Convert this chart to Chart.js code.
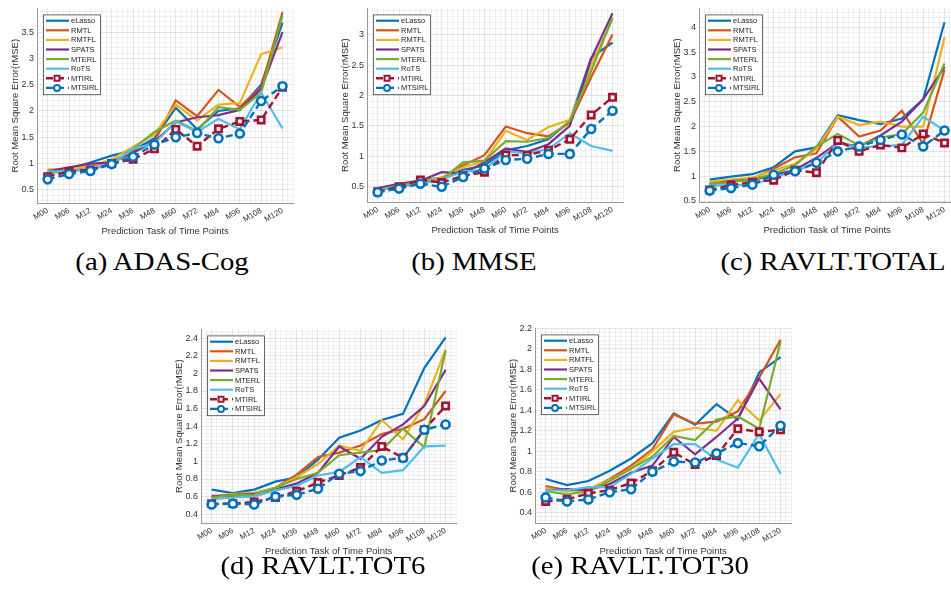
<!DOCTYPE html>
<html>
<head>
<meta charset="utf-8">
<script src="https://cdn.jsdelivr.net/npm/chart.js@4.4.0/dist/chart.umd.min.js"></script>
<style>
  body { margin: 0; width: 951px; height: 597px; background: #fff; position: relative; overflow: hidden; }
  .pane { position: absolute; }
  .cap {
    position: absolute; font-family: "Liberation Serif", "DejaVu Serif", serif;
    font-size: 25px; line-height: 25px; color: #000; white-space: nowrap;
    transform: translateX(-50%) scaleX(1.15);
  }
</style>
</head>
<body>
<script>
// x categories and legend names
const timePoints = ["M00", "M06", "M12", "M24", "M36", "M48", "M60", "M72", "M84", "M96", "M108", "M120"];
const methods = ["eLasso", "RMTL", "RMTFL", "SPATS", "MTERL", "RoTS", "MTIRL", "MTSIRL"];
const colors = ["#0072BD", "#D95319", "#EDB120", "#7E2F8E", "#77AC30", "#4DBEEE", "#A2142F", "#0072BD"];

// rows follow the order of `methods`
const adasCog = [
  [0.85, 0.90, 1.02, 1.15, 1.25, 1.48, 2.06, 1.65, 2.00, 2.05, 2.50, 3.68],
  [0.82, 0.88, 0.95, 1.05, 1.22, 1.42, 2.20, 1.90, 2.40, 2.08, 2.45, 3.88],
  [0.89, 0.90, 0.95, 1.08, 1.32, 1.55, 2.12, 1.82, 2.12, 2.15, 3.08, 3.21],
  [0.85, 0.93, 1.00, 1.02, 1.20, 1.42, 1.78, 1.88, 1.92, 2.02, 2.42, 3.50],
  [0.82, 0.85, 0.90, 0.98, 1.28, 1.60, 1.82, 1.62, 2.07, 2.02, 2.35, 3.82],
  [0.85, 0.85, 0.90, 1.00, 1.28, 1.38, 1.80, 1.60, 1.85, 1.65, 2.35, 1.67],
  [0.75, 0.85, 0.88, 1.00, 1.08, 1.28, 1.65, 1.33, 1.66, 1.80, 1.83, 2.45],
  [0.70, 0.80, 0.86, 0.99, 1.13, 1.36, 1.50, 1.58, 1.48, 1.57, 2.19, 2.47]
];
const mmse = [
  [0.45, 0.52, 0.60, 0.65, 0.78, 0.85, 1.10, 1.17, 1.28, 1.58, 2.62, 2.87],
  [0.45, 0.50, 0.55, 0.62, 0.85, 1.02, 1.49, 1.38, 1.33, 1.55, 2.30, 3.00],
  [0.45, 0.50, 0.58, 0.65, 0.82, 0.92, 1.42, 1.27, 1.48, 1.60, 2.50, 3.25],
  [0.48, 0.55, 0.60, 0.74, 0.72, 0.90, 1.13, 1.07, 1.20, 1.50, 2.60, 3.35],
  [0.45, 0.52, 0.58, 0.62, 0.90, 0.93, 1.25, 1.24, 1.30, 1.58, 2.40, 3.28],
  [0.44, 0.50, 0.55, 0.62, 0.75, 0.78, 1.08, 1.05, 1.12, 1.38, 1.17, 1.09],
  [0.42, 0.50, 0.61, 0.57, 0.68, 0.74, 1.02, 1.02, 1.10, 1.28, 1.68, 1.97],
  [0.41, 0.47, 0.55, 0.50, 0.66, 0.80, 0.94, 0.96, 1.04, 1.04, 1.45, 1.75]
];
const ravltTotal = [
  [0.93, 0.99, 1.04, 1.18, 1.50, 1.58, 2.23, 2.13, 2.05, 2.16, 2.55, 4.10],
  [0.87, 0.92, 0.95, 1.15, 1.38, 1.46, 2.20, 1.80, 1.92, 2.32, 1.65, 3.15],
  [0.89, 0.93, 0.97, 1.12, 1.25, 1.55, 2.20, 2.03, 2.10, 2.00, 2.00, 3.80],
  [0.83, 0.90, 0.92, 1.02, 1.13, 1.37, 1.67, 1.60, 1.82, 2.10, 2.55, 3.20],
  [0.84, 0.88, 0.93, 1.05, 1.22, 1.60, 1.85, 1.62, 1.78, 1.85, 2.28, 3.27],
  [0.80, 0.83, 0.82, 0.98, 1.10, 1.27, 1.67, 1.58, 1.60, 1.63, 2.20, 1.92],
  [0.72, 0.82, 0.88, 0.92, 1.12, 1.07, 1.72, 1.50, 1.63, 1.57, 1.85, 1.67],
  [0.71, 0.76, 0.83, 1.03, 1.10, 1.27, 1.50, 1.60, 1.73, 1.84, 1.60, 1.92]
];
const ravltTot6 = [
  [0.68, 0.64, 0.68, 0.77, 0.82, 1.02, 1.27, 1.35, 1.47, 1.54, 2.06, 2.41],
  [0.61, 0.60, 0.64, 0.70, 0.85, 1.05, 1.10, 1.18, 1.31, 1.37, 1.48, 1.80],
  [0.60, 0.63, 0.64, 0.70, 0.82, 0.97, 1.18, 1.12, 1.47, 1.25, 1.65, 2.27],
  [0.60, 0.62, 0.63, 0.68, 0.75, 0.87, 1.17, 1.03, 1.28, 1.42, 1.63, 2.04],
  [0.59, 0.62, 0.62, 0.70, 0.80, 0.87, 1.07, 1.10, 1.13, 1.37, 1.16, 2.26],
  [0.57, 0.59, 0.60, 0.67, 0.72, 0.84, 0.88, 1.05, 0.87, 0.90, 1.17, 1.18],
  [0.52, 0.52, 0.54, 0.59, 0.66, 0.76, 0.84, 0.93, 1.17, 1.04, 1.36, 1.63],
  [0.51, 0.52, 0.51, 0.60, 0.62, 0.69, 0.86, 0.89, 1.01, 1.04, 1.36, 1.42]
];
const ravltTot30 = [
  [0.73, 0.67, 0.71, 0.81, 0.93, 1.08, 1.37, 1.26, 1.46, 1.31, 1.77, 1.92],
  [0.66, 0.62, 0.62, 0.73, 0.86, 1.02, 1.36, 1.27, 1.29, 1.39, 1.72, 2.09],
  [0.64, 0.61, 0.63, 0.72, 0.83, 1.00, 1.19, 1.23, 1.20, 1.50, 1.30, 1.56],
  [0.62, 0.63, 0.62, 0.68, 0.79, 0.86, 1.14, 0.97, 1.14, 1.32, 1.71, 1.41],
  [0.61, 0.58, 0.61, 0.71, 0.83, 0.95, 1.15, 1.11, 1.31, 1.34, 1.22, 2.07],
  [0.62, 0.62, 0.65, 0.65, 0.78, 0.93, 1.07, 1.07, 0.92, 0.84, 1.17, 0.78],
  [0.51, 0.53, 0.59, 0.62, 0.69, 0.81, 0.99, 0.87, 0.96, 1.22, 1.19, 1.21],
  [0.55, 0.51, 0.53, 0.60, 0.63, 0.80, 0.90, 0.89, 0.98, 1.08, 1.05, 1.25]
];

const captions = ["(a) ADAS-Cog", "(b) MMSE", "(c) RAVLT.TOTAL", "(d) RAVLT.TOT6", "(e) RAVLT.TOT30"];
const yMins = [0.25, 0.25, 0.48, 0.3, 0.3];
const yMaxs = [3.95, 3.43, 4.38, 2.5, 2.2];
const yMajor = [0.5, 0.5, 0.5, 0.2, 0.2];

// plot-area boxes on the page: left, top, width, height; caption centre x, top
const boxes = [
  { x: 37, y: 5, w: 258, h: 198, cx: 162, cy: 249 },
  { x: 367, y: 5, w: 258, h: 197, cx: 474, cy: 249 },
  { x: 699, y: 5, w: 258, h: 197, cx: 833, cy: 249 },
  { x: 201, y: 326, w: 257, h: 197, cx: 323, cy: 553 },
  { x: 535, y: 325, w: 258, h: 198, cx: 640, cy: 553 }
];
const allData = [adasCog, mmse, ravltTotal, ravltTot6, ravltTot30];

const FONT = "'Liberation Sans', Arial, sans-serif";
const Y_W = 27, X_H = 35;

// boxed legend drawn inside the axes, like MATLAB's
const legendBox = {
  id: 'legendBox',
  afterDatasetsDraw(chart) {
    const ctx = chart.ctx, a = chart.chartArea;
    const x0 = a.left + 6, y0 = a.top + 6, rowH = 9.6, w = 57, h = rowH * 8 + 3;
    ctx.save();
    ctx.fillStyle = '#fff';
    ctx.fillRect(x0, y0, w, h);
    ctx.strokeStyle = '#444';
    ctx.lineWidth = 0.8;
    ctx.strokeRect(x0 + 0.5, y0 + 0.5, w, h);
    chart.data.datasets.forEach((ds, i) => {
      const y = y0 + 1.5 + rowH * (i + 0.5);
      ctx.strokeStyle = ds.borderColor;
      ctx.lineWidth = ds.borderWidth;
      ctx.setLineDash(ds.borderDash);
      ctx.beginPath();
      ctx.moveTo(x0 + 3, y);
      ctx.lineTo(x0 + 26, y);
      ctx.stroke();
      ctx.setLineDash([]);
      if (ds.pointRadius > 0) {
        ctx.fillStyle = '#fff';
        ctx.lineWidth = 2;
        ctx.beginPath();
        if (ds.pointStyle === 'rect') ctx.rect(x0 + 11.5, y - 2.5, 5, 5);
        else ctx.arc(x0 + 14, y, 3, 0, Math.PI * 2);
        ctx.fill();
        ctx.stroke();
      }
      ctx.fillStyle = '#222';
      ctx.font = '7.5px ' + FONT;
      ctx.textBaseline = 'middle';
      ctx.fillText(ds.label, x0 + 28, y + 0.5);
    });
    ctx.restore();
  }
};

const near = (v, step) => Math.abs(v / step - Math.round(v / step)) < 1e-6;
// ticks on whole multiples of the step (major ones get labels, others are minor grid)
const stepTicks = (step) => (s) => {
  const t = [];
  for (let k = Math.ceil(s.min / step - 1e-9); k * step <= s.max + 1e-9; k++) {
    t.push({ value: +(k * step).toFixed(6) });
  }
  s.ticks = t;
};

allData.forEach((values, p) => {
  const b = boxes[p];
  const wrap = document.createElement('div');
  wrap.className = 'pane';
  const W = Y_W + b.w + 6, H = 5 + b.h + X_H;
  wrap.style.left = (b.x - Y_W) + 'px';
  wrap.style.top = (b.y - 5) + 'px';
  wrap.style.width = W + 'px';
  wrap.style.height = H + 'px';
  const cv = document.createElement('canvas');
  cv.width = W; cv.height = H;
  wrap.appendChild(cv);
  document.body.appendChild(wrap);

  const cap = document.createElement('div');
  cap.className = 'cap';
  cap.style.left = b.cx + 'px';
  cap.style.top = b.cy + 'px';
  cap.textContent = captions[p];
  document.body.appendChild(cap);

  const datasets = methods.map((m, i) => ({
    label: m,
    data: values[i].map((v, k) => ({ x: k, y: v })),
    borderColor: colors[i],
    borderWidth: i < 6 ? 2.2 : 2.4,
    borderDash: i < 6 ? [] : [7, 4],
    pointRadius: i === 6 ? 4.5 : (i === 7 ? 4 : 0),
    pointStyle: i === 6 ? 'rect' : 'circle',
    pointBackgroundColor: '#fff',
    pointBorderColor: colors[i],
    pointBorderWidth: 2.6,
    tension: 0,
    order: 7 - i
  }));

  new Chart(cv, {
    type: 'line',
    data: { datasets },
    options: {
      responsive: false,
      animation: false,
      layout: { padding: { top: 5, right: 6, left: 0, bottom: 0 } },
      plugins: { legend: { display: false }, tooltip: { enabled: false } },
      scales: {
        x: {
          type: 'linear', min: -0.5, max: 11.5,
          afterBuildTicks: stepTicks(0.25),
          afterFit: s => { s.height = X_H; },
          border: { color: '#999' },
          grid: {
            drawTicks: false,
            color: c => near(c.tick.value, 1) ? 'rgba(0,0,0,0.10)' : 'rgba(0,0,0,0.05)'
          },
          ticks: {
            autoSkip: false, minRotation: 30, maxRotation: 30, padding: 3,
            color: '#333', font: { family: FONT, size: 8 },
            callback: v => near(v, 1) && v >= 0 && v <= 11 ? timePoints[Math.round(v)] : ''
          },
          title: {
            display: true, text: 'Prediction Task of Time Points', color: '#333',
            font: { family: FONT, size: 9.5 }, padding: { top: 0, bottom: 1 }
          }
        },
        y: {
          min: yMins[p], max: yMaxs[p],
          afterBuildTicks: stepTicks(yMajor[p] / 5),
          afterFit: s => { s.width = Y_W; },
          border: { color: '#999' },
          grid: {
            drawTicks: false,
            color: c => near(c.tick.value, yMajor[p]) ? 'rgba(0,0,0,0.10)' : 'rgba(0,0,0,0.05)'
          },
          ticks: {
            autoSkip: false, padding: 3,
            color: '#333', font: { family: FONT, size: 9 },
            callback: v => near(v, yMajor[p]) ? String(+v.toFixed(2)) : ''
          },
          title: {
            display: true, text: 'Root Mean Square Error(rMSE)', color: '#333',
            font: { family: FONT, size: 9.5 }, padding: { top: 0, bottom: 2 }
          }
        }
      }
    },
    plugins: [legendBox]
  });
});
</script>
</body>
</html>
